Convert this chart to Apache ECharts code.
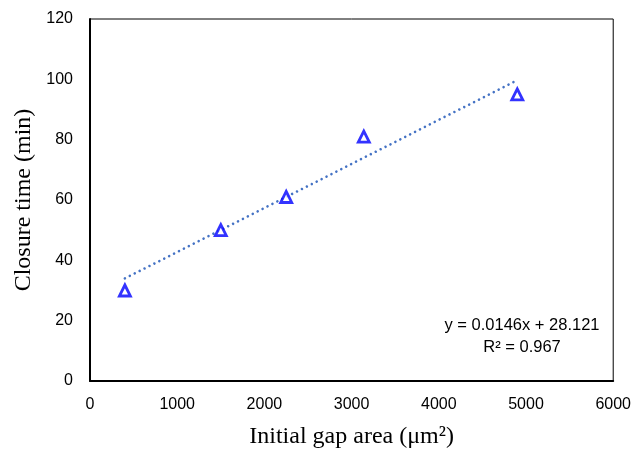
<!DOCTYPE html>
<html>
<head>
<meta charset="utf-8">
<script src="https://cdn.jsdelivr.net/npm/echarts@6/dist/echarts.min.js"></script>
<style>
  html, body { margin: 0; padding: 0; background: #fff; }
  #chart { width: 634px; height: 454px; }
</style>
</head>
<body>
<div id="chart"></div>
<script>
// measured points (initial gap area vs closure time)
const gapArea = [400, 1500, 2250, 3140, 4900]
const closureTime = [30, 50, 61, 81, 95]

// linear trendline ends, as drawn
const trendX = [400, 4900]
const trendY = [34, 99.7]

const equationLines = ['y = 0.0146x + 28.121', 'R² = 0.967']

const tickFont = { fontFamily: 'Liberation Sans', fontSize: 16, color: '#000' }
const titleFont = { fontFamily: 'Liberation Serif', fontSize: 24, color: '#000' }

const chart = echarts.init(document.getElementById('chart'))

chart.setOption({
  animation: false,
  grid: {
    left: 90,
    right: 20,
    top: 19,
    bottom: 69,
    show: true,
    borderColor: '#000',
    borderWidth: 1,
  },
  xAxis: {
    type: 'value',
    min: 0,
    max: 6000,
    interval: 1000,
    name: 'Initial gap area (μm²)',
    nameLocation: 'middle',
    nameGap: 44,
    nameTextStyle: titleFont,
    axisLine: { show: true, lineStyle: { color: '#000', width: 2 } },
    axisTick: { show: false },
    splitLine: { show: false },
    axisLabel: { ...tickFont, margin: 16, formatter: (v) => String(v) },
  },
  yAxis: {
    type: 'value',
    min: 0,
    max: 120,
    interval: 20,
    name: 'Closure time (min)',
    nameLocation: 'middle',
    nameRotate: 90,
    nameGap: 50,
    nameTextStyle: titleFont,
    axisLine: { show: true, lineStyle: { color: '#000', width: 2 } },
    axisTick: { show: false },
    splitLine: { show: false },
    axisLabel: { ...tickFont, margin: 17 },
  },
  graphic: [
    {
      type: 'text',
      x: 522,
      y: 314,
      style: {
        text: equationLines.join('\n'),
        fontFamily: 'Liberation Sans',
        fontSize: 16.5,
        lineHeight: 22,
        align: 'center',
        verticalAlign: 'top',
        fill: '#000',
      },
    },
  ],
  series: [
    {
      type: 'line',
      data: trendX.map((x, i) => [x, trendY[i]]),
      symbol: 'none',
      silent: true,
      lineStyle: { color: '#4472c4', width: 2.6, type: [0.01, 5.5], cap: 'round' },
      z: 1,
    },
    {
      type: 'scatter',
      data: gapArea.map((x, i) => [x, closureTime[i]]),
      symbol: 'triangle',
      symbolSize: 11,
      itemStyle: { color: '#fff', borderColor: '#0000ff', borderWidth: 2.8 },
      z: 2,
    },
  ],
})
</script>
</body>
</html>
